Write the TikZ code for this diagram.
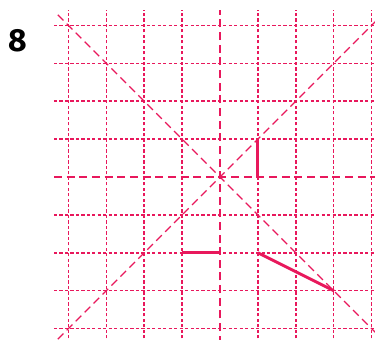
\documentclass[tikz,border=0pt]{standalone}
\usepackage{fontspec}
\setsansfont{Fira Sans}
\definecolor{rosa}{HTML}{E8185C}
\tikzset{
  punteada/.style={rosa, line width=1.1pt, dash pattern=on 2.4pt off 1.7pt},
  trazos/.style={rosa, line width=0.9pt, dash pattern=on 6pt off 3.5pt},
  trazo/.style={rosa, line width=2.2pt}
}
\begin{document}
\begin{tikzpicture}[x=1cm,y=1cm]

  % Marco del dibujo
  \useasboundingbox (-5.805,-4.301) rectangle (4.090,4.670);
  \clip (-5.805,-4.301) rectangle (4.090,4.670);

  % Cuadrícula punteada
  \foreach \i in {-4,-3,-2,-1,1,2,3,4}{
    \draw[punteada] (\i,-4.4) -- (\i,4.41);
    \draw[punteada] (-4.38,\i) -- (4.2,\i);
  }

  % Ejes y diagonales a trazos
  \draw[trazos] (0,-4.4) -- (0,4.41);
  \draw[trazos] (-4.38,0) -- (4.2,0);
  \draw[trazos] (-4.28,4.28) -- (4.4,-4.4);
  \draw[trazos] (-4.28,-4.28) -- (4.4,4.4);

  % Trazos del ejercicio
  \draw[trazo] (1,0) -- (1,1);
  \draw[trazo] (-1,-2) -- (0,-2);
  \draw[trazo] (1,-2) -- (3,-3);

  % Número del ejercicio
  \node[font=\sffamily\bfseries\fontsize{24}{28}\selectfont] (num) at (-5.33,3.6) {8};

\end{tikzpicture}
\end{document}
